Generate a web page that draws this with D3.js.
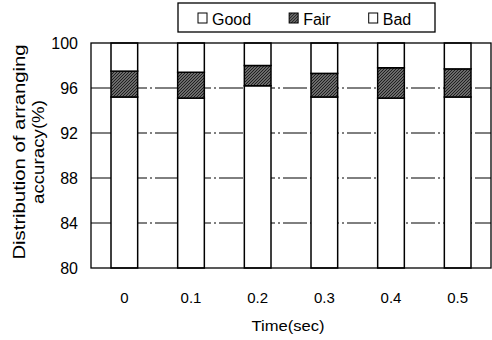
<!DOCTYPE html>
<html>
<head>
<meta charset="utf-8">
<script src="https://cdn.jsdelivr.net/npm/d3@7"></script>
<style>
  body { margin: 0; background: #fff; }
  svg { font-family: "Liberation Sans", Arial, sans-serif; }
</style>
</head>
<body>
<svg id="chart" width="492" height="340"></svg>
<script>
var w = 492, h = 340;
var margin = {left: 91, right: 1, top: 43, bottom: 72};

// data
var times = ["0", "0.1", "0.2", "0.3", "0.4", "0.5"];
var good = [95.2, 95.1, 96.2, 95.2, 95.1, 95.2];
var fair = [2.3, 2.3, 1.8, 2.1, 2.7, 2.5];
var bad = times.map(function(t, i) { return +(100 - good[i] - fair[i]).toFixed(1); });
var yTicks = [80, 84, 88, 92, 96, 100];
var seriesNames = ["Good", "Fair", "Bad"];

var svg = d3.select("#chart");

var defs = svg.append("defs");
var pat = defs.append("pattern")
  .attr("id", "hatch")
  .attr("patternUnits", "userSpaceOnUse")
  .attr("width", 3).attr("height", 3);
pat.append("rect").attr("width", 3).attr("height", 3).attr("fill", "#8a8a8a");
pat.append("path").attr("d", "M0,3 L3,0 M-1,1 L1,-1 M2,4 L4,2")
  .attr("stroke", "#1a1a1a").attr("stroke-width", 1.1);

var x = d3.scaleBand().domain(times)
  .range([margin.left, w - margin.right])
  .paddingInner(0.6).paddingOuter(0.3);
var y = d3.scaleLinear().domain([80, 100]).range([h - margin.bottom, margin.top]);

// grid lines
svg.append("g").selectAll("line")
  .data(yTicks.filter(function(d) { return d > 80 && d < 100; }))
  .enter().append("line")
  .attr("x1", margin.left).attr("x2", w - margin.right)
  .attr("y1", function(d) { return y(d); })
  .attr("y2", function(d) { return y(d); })
  .attr("stroke", "#000").attr("stroke-width", 1)
  .attr("stroke-dasharray", "24,3,2,3");

// stacked bars
var rows = times.map(function(t, i) { return {t: t, Good: good[i] - 80, Fair: fair[i], Bad: bad[i]}; });
var stack = d3.stack().keys(seriesNames)(rows);
var fills = {Good: "#fff", Fair: "url(#hatch)", Bad: "#fff"};

svg.append("g").selectAll("g")
  .data(stack)
  .enter().append("g")
  .attr("fill", function(d) { return fills[d.key]; })
  .selectAll("rect")
  .data(function(d) { return d; })
  .enter().append("rect")
  .attr("x", function(d) { return x(d.data.t); })
  .attr("width", x.bandwidth())
  .attr("y", function(d) { return y(d[1] + 80); })
  .attr("height", function(d) { return y(d[0] + 80) - y(d[1] + 80); })
  .attr("stroke", "#000").attr("stroke-width", 1.5);

// plot frame
svg.append("rect")
  .attr("x", margin.left).attr("y", margin.top)
  .attr("width", w - margin.right - margin.left)
  .attr("height", h - margin.bottom - margin.top)
  .attr("fill", "none").attr("stroke", "#000").attr("stroke-width", 1.3);

// y axis
var yAxis = svg.append("g")
  .attr("transform", "translate(" + margin.left + ",0)")
  .call(d3.axisLeft(y).tickValues(yTicks).tickSize(0).tickPadding(13));
yAxis.select(".domain").remove();
yAxis.selectAll("text").attr("font-size", 16).attr("fill", "#000")
  .attr("font-family", "Liberation Sans, Arial, sans-serif");

// x axis labels
var xAxis = svg.append("g")
  .attr("transform", "translate(0," + (h - margin.bottom) + ")")
  .call(d3.axisBottom(x).tickSize(0).tickPadding(24));
xAxis.select(".domain").remove();
xAxis.selectAll("text").attr("font-size", 15).attr("fill", "#000")
  .attr("font-family", "Liberation Sans, Arial, sans-serif");

// axis titles
svg.append("text")
  .attr("x", 288).attr("y", 331)
  .attr("text-anchor", "middle").attr("font-size", 15)
  .attr("textLength", 73).attr("lengthAdjust", "spacingAndGlyphs")
  .text("Time(sec)");

svg.append("text")
  .attr("transform", "translate(25,152) rotate(-90)")
  .attr("text-anchor", "middle").attr("font-size", 17)
  .attr("textLength", 215).attr("lengthAdjust", "spacingAndGlyphs")
  .text("Distribution of arranging");
svg.append("text")
  .attr("transform", "translate(44,152) rotate(-90)")
  .attr("text-anchor", "middle").attr("font-size", 17)
  .attr("textLength", 104).attr("lengthAdjust", "spacingAndGlyphs")
  .text("accuracy(%)");

// legend
var legend = svg.append("g");
legend.append("rect")
  .attr("x", 178).attr("y", 3).attr("width", 257).attr("height", 29)
  .attr("fill", "#fff").attr("stroke", "#000").attr("stroke-width", 1.3);
var lxPos = 198;
seriesNames.forEach(function(name) {
  var g = legend.append("g").attr("transform", "translate(" + lxPos + ",13)");
  g.append("rect")
    .attr("width", 9).attr("height", 10)
    .attr("fill", fills[name])
    .attr("stroke", "#000").attr("stroke-width", 1);
  var t = g.append("text")
    .attr("x", 14).attr("y", 12)
    .attr("font-size", 16)
    .text(name);
  lxPos += 14 + t.node().getComputedTextLength() + 38;
});
</script>
</body>
</html>
